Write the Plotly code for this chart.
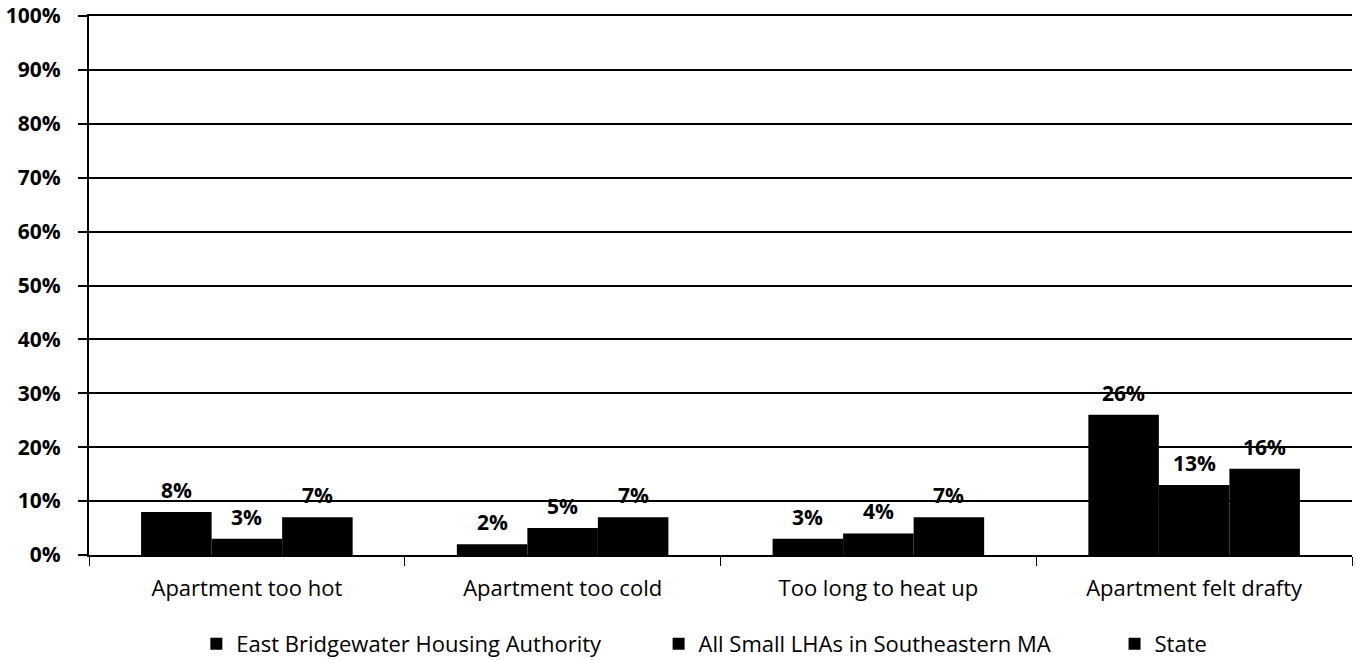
import plotly.graph_objects as go

categories = ["Apartment too hot", "Apartment too cold", "Too long to heat up", "Apartment felt drafty"]
series_names = ["East Bridgewater Housing Authority", "All Small LHAs in Southeastern MA", "State"]
east_bridgewater = [8, 2, 3, 26]
small_lhas = [3, 5, 4, 13]
state = [7, 7, 7, 16]
tick_vals = [0, 10, 20, 30, 40, 50, 60, 70, 80, 90, 100]
tick_text = [f"{v}%" for v in tick_vals]

font_family = "'Open Sans', Lato, sans-serif"

W, H = 1356, 660
ML, MR, MT, MB = 89, 4, 16, 105
BARGAP = 0.33

series = [east_bridgewater, small_lhas, state]
legend_ids = ["legend", "legend2", "legend3"]
legend_x = [0.085, 0.451, 0.812]

fig = go.Figure()
for name, vals, lid in zip(series_names, series, legend_ids):
    fig.add_trace(go.Bar(
        name=name, x=categories, y=vals, legend=lid,
        marker=dict(color="black", line=dict(width=0)),
        hoverinfo="x+y",
    ))

# value labels above bars (offset in pixels within each group)
plot_w = W - ML - MR
cat_w = plot_w / len(categories)
bar_w = cat_w * (1 - BARGAP) / len(series)
annotations = []
for si, vals in enumerate(series):
    xshift = (si - (len(series) - 1) / 2) * bar_w
    for cat, v in zip(categories, vals):
        annotations.append(dict(
            x=cat, y=v, xref="x", yref="y", text=f"{v}%", showarrow=False,
            yanchor="bottom", xanchor="center", xshift=xshift, yshift=6,
            font=dict(family=font_family, size=21, color="black", weight="bold"),
        ))

legend_common = dict(orientation="h", xanchor="left", y=-0.126, yanchor="top",
                     font=dict(size=22), itemwidth=30, bgcolor="rgba(0,0,0,0)")
legends = {}
for lid, lx in zip(legend_ids, legend_x):
    legends[lid] = dict(legend_common, x=lx)

fig.update_layout(
    barmode="group", bargap=BARGAP, bargroupgap=0,
    width=W, height=H,
    margin=dict(l=ML, r=MR, t=MT, b=MB, autoexpand=False),
    paper_bgcolor="white", plot_bgcolor="white",
    font=dict(family=font_family, size=21, color="black"),
    showlegend=True,
    xaxis=dict(showline=True, linecolor="black", linewidth=2, ticks="outside",
               tickson="boundaries", ticklen=9, tickcolor="black", tickwidth=1,
               tickfont=dict(size=22), showgrid=False, automargin=False,
               ticklabelstandoff=13, mirror=True),
    yaxis=dict(range=[0, 100], tickvals=tick_vals, ticktext=tick_text,
               showgrid=True, gridcolor="black", gridwidth=2,
               showline=True, linecolor="black", linewidth=2,
               tickfont=dict(size=21, weight="bold"), ticks="outside", ticklen=9,
               tickcolor="black", tickwidth=2, zeroline=False, automargin=False,
               ticklabelstandoff=13),
    annotations=annotations,
    **legends,
)

# remove the page's default body margin so the figure fills the window exactly
fig.write_html("out.html", config={"displayModeBar": False},
               post_script="document.body.style.margin='0';document.body.style.overflow='hidden';")
